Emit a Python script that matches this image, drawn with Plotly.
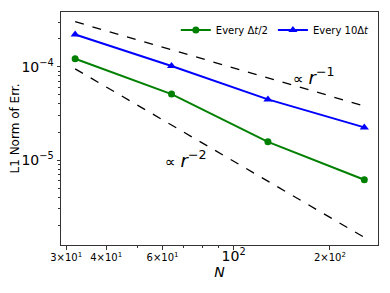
import numpy as np
import plotly.graph_objects as go

N = [32, 64, 128, 256]
err_half = [1.22e-4, 5.1e-5, 1.57e-5, 6.15e-6]
err_10 = [2.22e-4, 1.02e-4, 4.47e-5, 2.24e-5]
ref1_c = 3.04e-4
ref2_c = 9.5e-5
ref1 = [ref1_c * (N[0] / n) for n in N]
ref2 = [ref2_c * (N[0] / n) ** 2 for n in N]

xtick_vals = [30, 40, 60, 100, 200]
xtick_text = ['<span style="font-size:10px">3×10<sup>1</sup></span>',
              '<span style="font-size:10px">4×10<sup>1</sup></span>',
              '<span style="font-size:10px">6×10<sup>1</sup></span>',
              '10<sup>2</sup>',
              '<span style="font-size:10px">2×10<sup>2</sup></span>']
ytick_vals = [1e-5, 1e-4]
ytick_text = ['10<sup>−5</sup>', '10<sup>−4</sup>']

fig = go.Figure()
fig.add_trace(go.Scatter(x=N, y=ref1, mode='lines', line=dict(color='black', dash='dash', width=1.3),
                         showlegend=False, hoverinfo='skip'))
fig.add_trace(go.Scatter(x=N, y=ref2, mode='lines', line=dict(color='black', dash='dash', width=1.3),
                         showlegend=False, hoverinfo='skip'))
fig.add_trace(go.Scatter(x=N, y=err_half, mode='lines+markers', name='Every Δ<i>t</i>/2',
                         line=dict(color='green', width=2), marker=dict(symbol='circle', size=7, color='green')))
fig.add_trace(go.Scatter(x=N, y=err_10, mode='lines+markers', name='Every 10Δ<i>t</i>',
                         line=dict(color='blue', width=2), marker=dict(symbol='triangle-up', size=8, color='blue')))

fig.add_annotation(x=np.log10(178), y=np.log10(7.9e-5), xref='x', yref='y',
                   text='<span style="font-size:15px">∝ </span><i>r</i><sup>−1</sup>',
                   showarrow=False, font=dict(size=18, color='black'))
fig.add_annotation(x=np.log10(71), y=np.log10(1.03e-5), xref='x', yref='y',
                   text='<span style="font-size:15px">∝ </span><i>r</i><sup>−2</sup>',
                   showarrow=False, font=dict(size=18, color='black'))

minor_x = [30, 40, 50, 60, 70, 80, 90, 200]
minor_y = [m * 10.0 ** e for e in (-6, -5, -4) for m in range(2, 10)]

fig.update_layout(
    template='none',
    width=390, height=293,
    margin=dict(l=53, r=20, t=4, b=56, autoexpand=False),
    paper_bgcolor='white', plot_bgcolor='white',
    font=dict(family='DejaVu Sans', size=12, color='black'),
    legend=dict(orientation='h', x=0.99, xanchor='right', y=0.985, yanchor='top',
                bgcolor='rgba(0,0,0,0)', font=dict(size=10), tracegroupgap=0),
    xaxis=dict(type='log', range=[1.461, 2.451], showgrid=False, zeroline=False, automargin=False,
               showline=True, linecolor='#333', linewidth=1, mirror=True,
               ticks='outside', ticklen=3.5, tickcolor='#333',
               tickmode='array', tickvals=xtick_vals, ticktext=xtick_text,
               tickfont=dict(size=14), ticklabelstandoff=-5,
               minor=dict(tickmode='array', tickvals=minor_x, ticks='outside', ticklen=2, tickcolor='#333', showgrid=False),
               title=dict(text='<i>N</i>', font=dict(size=14), standoff=0)),
    yaxis=dict(type='log', range=[-5.91, -3.413], showgrid=False, zeroline=False, automargin=False,
               showline=True, linecolor='#333', linewidth=1, mirror=True,
               ticks='outside', ticklen=3.5, tickcolor='#333',
               tickmode='array', tickvals=ytick_vals, ticktext=ytick_text,
               tickfont=dict(size=14),
               minor=dict(tickmode='array', tickvals=minor_y, ticks='outside', ticklen=2, tickcolor='#333', showgrid=False),
               title=dict(text='L1 Norm of Err.', font=dict(size=12), standoff=4)),
)

fig.write_html('out.html')
